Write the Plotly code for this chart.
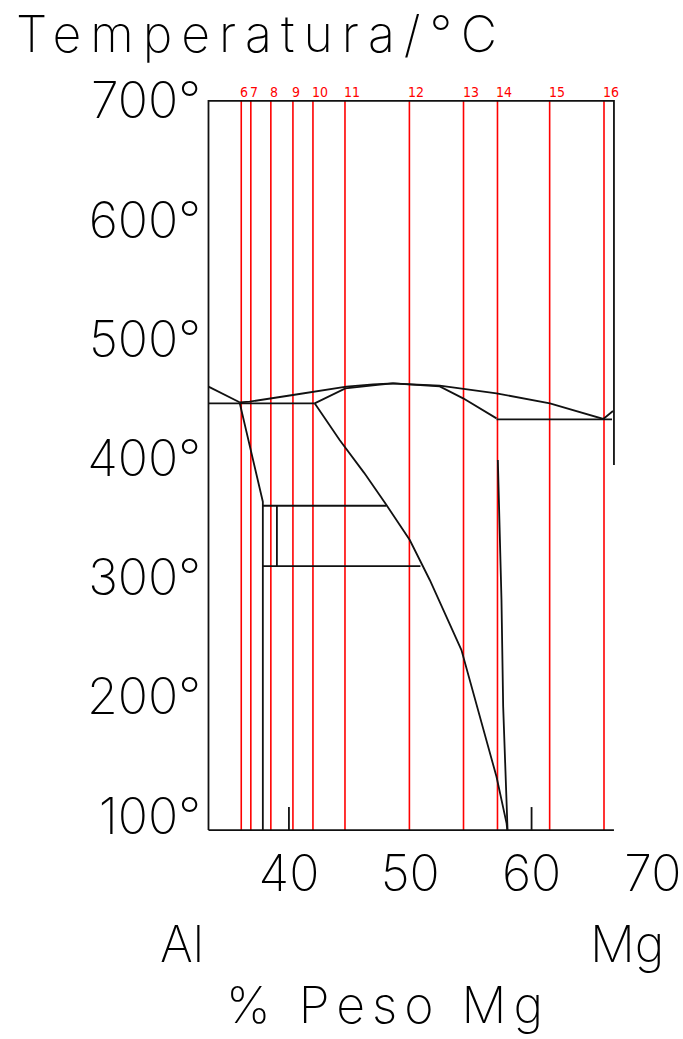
import plotly.graph_objects as go

# ---- alloy compositions (wt % Mg) marked by the red verticals ----
alloy_labels = ["6", "7", "8", "9", "10", "11", "12", "13", "14", "15", "16"]
alloy_x = [36.07, 36.86, 38.51, 40.33, 41.98, 44.62, 49.93, 54.39, 57.19, 61.49, 65.97]

# ---- diagram frame ----
frame_x = [33.37, 33.37, 66.79, 66.79]
frame_t = [88.3, 700.0, 700.0, 394.5]
floor_x = [33.37, 66.79]
floor_t = [88.3, 88.3]

# ---- phase boundaries (x = wt % Mg, t = °C) ----
liq_al_x = [33.37, 35.93]
liq_al_t = [460.3, 447.2]

eut_left_x = [33.37, 42.12]
eut_left_t = [446.3, 446.3]

liq_mid_x = [35.93, 36.76, 40.33, 44.74, 46.93, 48.58, 49.69, 52.43, 57.11, 61.51, 65.91, 66.71]
liq_mid_t = [447.2, 447.7, 453.3, 460.3, 462.3, 463.1, 462.5, 461.1, 454.7, 446.3, 433.2, 439.9]

sol_gamma_left_x = [42.12, 44.65, 47.50, 48.58]
sol_gamma_left_t = [446.3, 458.9, 462.0, 463.1]

sol_gamma_right_x = [48.58, 52.43, 54.36, 57.11]
sol_gamma_right_t = [463.1, 460.5, 450.5, 433.7]

eut_right_x = [57.11, 66.63]
eut_right_t = [432.9, 432.9]

beta_edge_x = [35.93, 37.85, 37.85]
beta_edge_t = [447.2, 363.8, 88.3]

beta_upper_x = [37.85, 48.04]
beta_upper_t = [360.4, 360.4]
beta_lower_x = [37.85, 50.84]
beta_lower_t = [309.8, 309.8]
beta_step_x = [39.01, 39.01]
beta_step_t = [360.4, 309.8]

solvus_left_x = [42.12, 44.18, 46.2, 48.04, 49.96, 50.78, 51.61, 54.22, 56.01, 57.11, 57.94, 58.00]
solvus_left_t = [446.3, 415.5, 388.0, 361.0, 331.6, 314.8, 298.1, 239.3, 174.9, 133.0, 93.9, 88.3]

solvus_right_x = [57.22, 57.52, 57.66, 57.88, 58.02]
solvus_right_t = [398.8, 281.3, 191.7, 121.9, 88.3]

tick_marks_x = [40, 60]
tick_marks_t = [107.6, 88.3]

# ---- axis labels ----
temp_ticks = [100, 200, 300, 400, 500, 600, 700]
temp_ticktext = ["100°", "200°", "300°", "400°", "500°", "600°", "700°"]
mg_ticks = [40, 50, 60, 70]
mg_ticktext = ["40", "50", "60", "70"]

# ---- page geometry ----
W, H = 683, 1039
X_RANGE = [33.0, 71.41]
T_RANGE = [85.0, 705.0]
PX_PER_X = 12.12
PX_PER_T = 1.1917
X40_PX = 289.3
T700_PX = 101.0

left = X40_PX - (40 - X_RANGE[0]) * PX_PER_X
right = W - (X40_PX + (X_RANGE[1] - 40) * PX_PER_X)
top = T700_PX - (T_RANGE[1] - 700) * PX_PER_T
bottom = H - (T700_PX + (700 - T_RANGE[0]) * PX_PER_T)
plot_w = W - left - right
plot_h = H - top - bottom


def paper_x(px):
    return (px - left) / plot_w


def paper_y(py):
    return (H - bottom - py) / plot_h


def spaced(text, px):
    return f'<span style="letter-spacing:{px}px">{text}</span>'


BIG_FONT = dict(family="Inter, Roboto, DejaVu Sans", size=50, color="black", weight=200)
RED = "#ff0000"
INK = "#111111"

fig = go.Figure()

# red alloy verticals
for ax in alloy_x:
    fig.add_trace(go.Scatter(x=[ax, ax], y=[floor_t[0], frame_t[1]], mode="lines",
                             line=dict(color=RED, width=1.6), hoverinfo="skip",
                             showlegend=False))

black_lines = [
    (frame_x, frame_t), (floor_x, floor_t),
    (liq_al_x, liq_al_t), (eut_left_x, eut_left_t), (liq_mid_x, liq_mid_t),
    (sol_gamma_left_x, sol_gamma_left_t), (sol_gamma_right_x, sol_gamma_right_t),
    (eut_right_x, eut_right_t), (beta_edge_x, beta_edge_t),
    (beta_upper_x, beta_upper_t), (beta_lower_x, beta_lower_t), (beta_step_x, beta_step_t),
    (solvus_left_x, solvus_left_t), (solvus_right_x, solvus_right_t),
]
for xs, ts in black_lines:
    fig.add_trace(go.Scatter(x=xs, y=ts, mode="lines", line=dict(color=INK, width=1.8),
                             hoverinfo="skip", showlegend=False))

for tx in tick_marks_x:
    fig.add_trace(go.Scatter(x=[tx, tx], y=tick_marks_t, mode="lines",
                             line=dict(color=INK, width=1.8), hoverinfo="skip",
                             showlegend=False))

annotations = []
for lab, ax in zip(alloy_labels, alloy_x):
    annotations.append(dict(x=ax, xref="x", y=paper_y(92.5), yref="paper", text=lab,
                            showarrow=False, xanchor="left", yanchor="middle", xshift=-3,
                            font=dict(family="Liberation Sans Narrow, DejaVu Sans Condensed",
                                      size=14, color=RED)))

annotations += [
    dict(x=paper_x(15), y=paper_y(34), xref="paper", yref="paper",
         text=spaced("Temperatura/°C", 9),
         showarrow=False, xanchor="left", yanchor="middle", font=BIG_FONT),
    dict(x=paper_x(182), y=paper_y(944), xref="paper", yref="paper", text="Al",
         showarrow=False, xanchor="center", yanchor="middle", font=BIG_FONT),
    dict(x=paper_x(627), y=paper_y(944), xref="paper", yref="paper", text="Mg",
         showarrow=False, xanchor="center", yanchor="middle", font=BIG_FONT),
    dict(x=paper_x(388), y=paper_y(1005), xref="paper", yref="paper",
         text=spaced("% Peso Mg", 7),
         showarrow=False, xanchor="center", yanchor="middle", font=BIG_FONT),
]

fig.update_layout(
    template="none",
    width=W, height=H, autosize=False,
    margin=dict(l=left, r=right, t=top, b=bottom, pad=0),
    paper_bgcolor="white", plot_bgcolor="white",
    showlegend=False,
    annotations=annotations,
    xaxis=dict(range=X_RANGE, tickvals=mg_ticks, ticktext=mg_ticktext, ticks="",
               showgrid=False, zeroline=False, showline=False, automargin=False,
               tickfont=BIG_FONT, ticklabelstandoff=6, fixedrange=True),
    yaxis=dict(range=T_RANGE, tickvals=temp_ticks, ticktext=temp_ticktext, ticks="",
               showgrid=False, zeroline=False, showline=False, automargin=False,
               tickfont=BIG_FONT, ticklabelstandoff=2, fixedrange=True),
)

fig.write_html("out.html")
